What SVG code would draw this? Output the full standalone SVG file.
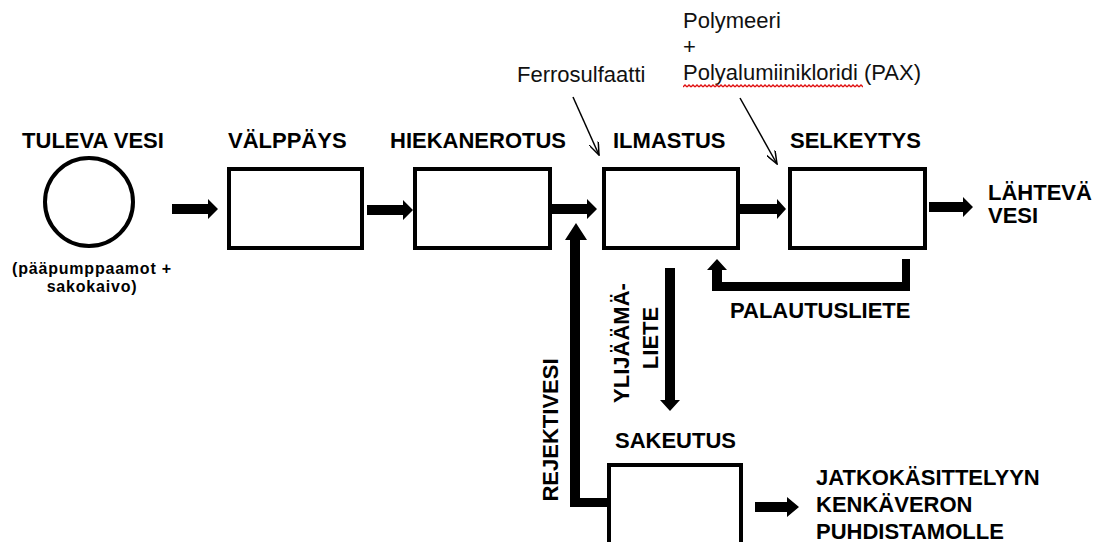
<svg xmlns="http://www.w3.org/2000/svg" width="1105" height="542" viewBox="0 0 1105 542">
  <style>
    .t { font-family: "Liberation Sans", Arial, Helvetica, sans-serif; font-size: 22px; font-weight: bold; fill: #000; }
    .r { font-family: "Liberation Sans", Arial, Helvetica, sans-serif; font-size: 22px; fill: #111; }
    .s { font-family: "Liberation Sans", Arial, Helvetica, sans-serif; font-size: 16px; font-weight: bold; letter-spacing: 0.8px; fill: #000; }
    .box { fill: #fff; stroke: #000; stroke-width: 4; }
    .fat { fill: #000; stroke: none; }
    .thin { stroke: #000; stroke-width: 1.5; fill: none; marker-end: url(#open); }
  </style>
  <defs>
    <marker id="open" viewBox="0 0 14 10" refX="13" refY="5" markerWidth="14" markerHeight="10" markerUnits="userSpaceOnUse" orient="auto">
      <path d="M0,0 L13,5 L0,10" fill="none" stroke="#000" stroke-width="1.5"/>
    </marker>
    <pattern id="wave" x="683" y="84" width="4" height="4" patternUnits="userSpaceOnUse">
      <path d="M0,3 L2,1 L4,3" fill="none" stroke="#e01010" stroke-width="1.3"/>
    </pattern>
  </defs>
  <rect width="1105" height="542" fill="#fff"/>

  <g id="tuleva">
    <text class="t" x="93" y="148" text-anchor="middle">TULEVA VESI</text>
    <circle cx="89" cy="202" r="44" fill="#fff" stroke="#000" stroke-width="4"/>
    <text class="s" x="92" y="274" text-anchor="middle">(pääpumppaamot +</text>
    <text class="s" x="92" y="292" text-anchor="middle">sakokaivo)</text>
  </g>
  <g id="valppays">
    <text class="t" x="228" y="148">VÄLPPÄYS</text>
    <rect class="box" x="229" y="169" width="133" height="79"/>
  </g>
  <g id="hiekanerotus">
    <text class="t" x="390" y="148">HIEKANEROTUS</text>
    <rect class="box" x="415" y="169" width="135" height="79"/>
  </g>
  <g id="ilmastus">
    <text class="t" x="613" y="148">ILMASTUS</text>
    <rect class="box" x="604" y="169" width="134" height="79"/>
  </g>
  <g id="selkeytys">
    <text class="t" x="790" y="148">SELKEYTYS</text>
    <rect class="box" x="790" y="169" width="135" height="79"/>
  </g>
  <g id="sakeutus">
    <text class="t" x="615" y="448">SAKEUTUS</text>
    <rect class="box" x="609" y="465" width="132" height="100"/>
  </g>
  <g id="lahteva">
    <text class="t" x="988" y="200">LÄHTEVÄ</text>
    <text class="t" x="988" y="223">VESI</text>
  </g>
  <g id="jatko">
    <text class="t" x="816" y="485">JATKOKÄSITTELYYN</text>
    <text class="t" x="816" y="512">KENKÄVERON</text>
    <text class="t" x="816" y="539">PUHDISTAMOLLE</text>
  </g>
  <g id="ferro">
    <text class="r" x="517" y="82">Ferrosulfaatti</text>
  </g>
  <g id="polymeeri">
    <text class="r" x="683" y="28">Polymeeri</text>
    <text class="r" x="683" y="54">+</text>
    <text class="r" x="683" y="80">Polyalumiinikloridi (PAX)</text>
    <rect x="683" y="84" width="180" height="4" fill="url(#wave)"/>
  </g>

  <g id="connectors">
    <path class="fat" d="M172,204 H208 V199 L218,209 L208,219 V214 H172 Z"/>
    <path class="fat" d="M367,205 H403 V200 L413,210 L403,220 V215 H367 Z"/>
    <path class="fat" d="M552,204 H587 V199 L597,209 L587,219 V214 H552 Z"/>
    <path class="fat" d="M740,204 H777 V199 L786,209 L777,219 V214 H740 Z"/>
    <path class="fat" d="M929,202 H963 V197 L973,207 L963,217 V212 H929 Z"/>
    <path class="fat" d="M755,502 H787 V497 L799,507 L787,517 V512 H755 Z"/>
    <path class="fat" d="M665,268 V400 H660 L670,411 L680,400 H675 V268 Z"/>
    <path class="fat" d="M570,240 V507 H607 V498 H580 V240 H587 L576,223 L565,240 Z"/>
    <path class="fat" d="M902,259 H910 V291 H712 V270 H707 L717,259 L727,270 H722 V282 H902 Z"/>
    <line class="thin" x1="573" y1="97" x2="599" y2="155"/>
    <line class="thin" x1="740" y1="98" x2="777" y2="164"/>
    <text class="t" x="730" y="318">PALAUTUSLIETE</text>
    <text class="t" transform="translate(629,343) rotate(-90)" text-anchor="middle">YLIJÄÄMÄ-</text>
    <text class="t" transform="translate(658,338) rotate(-90)" text-anchor="middle">LIETE</text>
    <text class="t" transform="translate(558,430) rotate(-90)" text-anchor="middle">REJEKTIVESI</text>
  </g>
</svg>
